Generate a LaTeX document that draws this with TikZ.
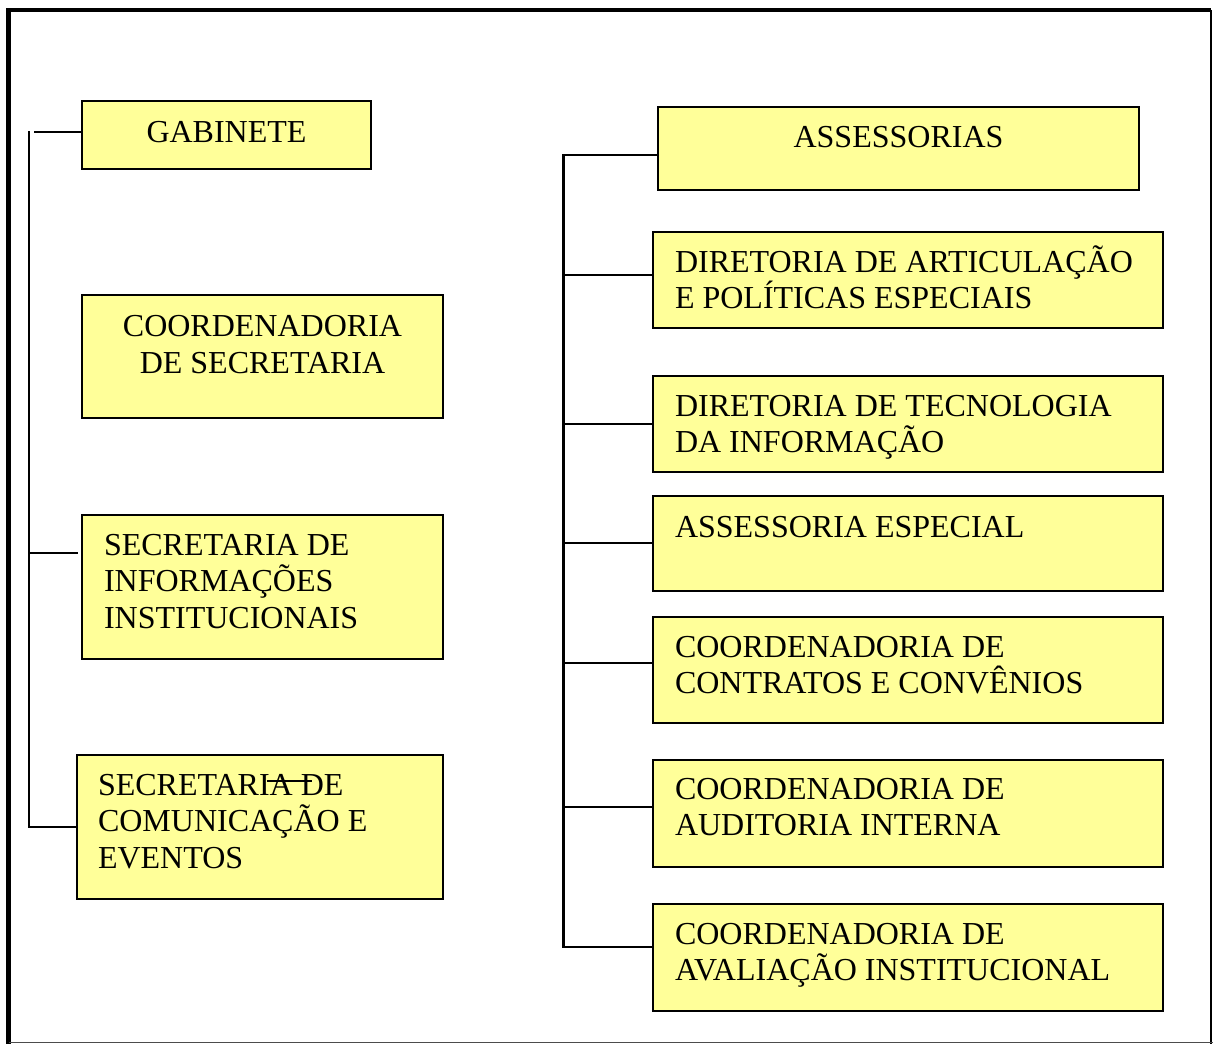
\documentclass[tikz,border=0pt]{standalone}
\usepackage{fontspec}
\setmainfont{Liberation Serif}
\definecolor{boxyellow}{HTML}{FFFF99}
\begin{document}
\begin{tikzpicture}[x=1pt,y=-1pt,
  box/.style={draw=black, line width=2.4pt, fill=boxyellow, inner sep=0pt, outer sep=0pt},
  txt/.style={inner sep=0pt, outer sep=0pt, font=\fontsize{32}{36}\selectfont},
  conn/.style={line width=2.2pt, line cap=rect},
  frame/.style={line width=4.5pt}]
\useasboundingbox (0,0) rectangle (1213,1044);
% frame
\draw[frame] (8.5,1044) -- (8.5,10) -- (1211,10);
\draw[line width=2pt] (1211,10) -- (1211,1044);
\draw[line width=1.5pt, black!70] (8.5,1042.5) -- (1213,1042.5);

% left boxes
\node[box, minimum width=289pt, minimum height=68pt] (gab) at (226.5,135) {};
\node[box, minimum width=361pt, minimum height=123pt] (csec) at (262.5,356.5) {};
\node[box, minimum width=361pt, minimum height=144pt] (sinf) at (262.5,587) {};
\node[box, minimum width=366pt, minimum height=144pt] (scom) at (260,827) {};

\node[txt, anchor=base] (tgab) at (226.5,142.7) {GABINETE};
\node[txt, anchor=base] (tcs1) at (262.5,336) {COORDENADORIA};
\node[txt, anchor=base] (tcs2) at (262.5,373) {DE SECRETARIA};
\node[txt, anchor=base west] (tsi1) at (104,555) {SECRETARIA DE};
\node[txt, anchor=base west] (tsi2) at (104,591.5) {INFORMAÇÕES};
\node[txt, anchor=base west] (tsi3) at (104,628) {INSTITUCIONAIS};
\node[txt, anchor=base west] (tsc1) at (98,795) {SECRETARIA DE};
\node[txt, anchor=base west] (tsc2) at (98,831.5) {COMUNICAÇÃO E};
\node[txt, anchor=base west] (tsc3) at (98,868) {EVENTOS};
\draw[line width=2pt] (267,781) -- (312,781);

% right boxes
\node[box, minimum width=481pt, minimum height=83pt] (ass) at (898.5,148.5) {};
\node[box, minimum width=510pt, minimum height=96pt] (d1) at (908,280) {};
\node[box, minimum width=510pt, minimum height=96pt] (d2) at (908,424) {};
\node[box, minimum width=510pt, minimum height=95pt] (a2) at (908,543.5) {};
\node[box, minimum width=510pt, minimum height=106pt] (c1) at (908,670) {};
\node[box, minimum width=510pt, minimum height=107pt] (c2) at (908,813.5) {};
\node[box, minimum width=510pt, minimum height=107pt] (c3) at (908,957.5) {};

\node[txt, anchor=base] (tass) at (898.5,147.5) {ASSESSORIAS};
\node[txt, anchor=base west] (td11) at (675,272) {DIRETORIA DE ARTICULAÇÃO};
\node[txt, anchor=base west] (td12) at (675,308) {E POLÍTICAS ESPECIAIS};
\node[txt, anchor=base west] (td21) at (675,416.5) {DIRETORIA DE TECNOLOGIA};
\node[txt, anchor=base west] (td22) at (675,452) {DA INFORMAÇÃO};
\node[txt, anchor=base west] (ta21) at (675,537) {ASSESSORIA ESPECIAL};
\node[txt, anchor=base west] (tc11) at (675,657) {COORDENADORIA DE};
\node[txt, anchor=base west] (tc12) at (675,693) {CONTRATOS E CONVÊNIOS};
\node[txt, anchor=base west] (tc21) at (675,799) {COORDENADORIA DE};
\node[txt, anchor=base west] (tc22) at (675,835.5) {AUDITORIA INTERNA};
\node[txt, anchor=base west] (tc31) at (675,944) {COORDENADORIA DE};
\node[txt, anchor=base west] (tc32) at (675,980) {AVALIAÇÃO INSTITUCIONAL};

% left connectors
\coordinate (Ltop) at (29,132);
\coordinate (Lbot) at (29,826.7);
\coordinate (g0) at (35,131.7);
\coordinate (i0) at (29,552.7);
\coordinate (i1) at (77,552.7);
\draw[conn] (Ltop) -- (Lbot);
\draw[conn] (g0) -- (g0 -| gab.west);
\draw[conn] (i0) -- (i1);
\draw[conn] (Lbot) -- (Lbot -| scom.west);

% right connectors
\coordinate (Rtop) at (563.5,155);
\coordinate (Rbot) at (563.5,946.7);
\coordinate (r1) at (563.5,275);
\coordinate (r2) at (563.5,424);
\coordinate (r3) at (563.5,543);
\coordinate (r4) at (563.5,663);
\coordinate (r5) at (563.5,807);
\draw[conn] (Rtop) -- (Rbot);
\draw[conn] (Rtop) -- (Rtop -| ass.west);
\draw[conn] (r1) -- (r1 -| d1.west);
\draw[conn] (r2) -- (r2 -| d2.west);
\draw[conn] (r3) -- (r3 -| a2.west);
\draw[conn] (r4) -- (r4 -| c1.west);
\draw[conn] (r5) -- (r5 -| c2.west);
\draw[conn] (Rbot) -- (Rbot -| c3.west);
\end{tikzpicture}
\end{document}
